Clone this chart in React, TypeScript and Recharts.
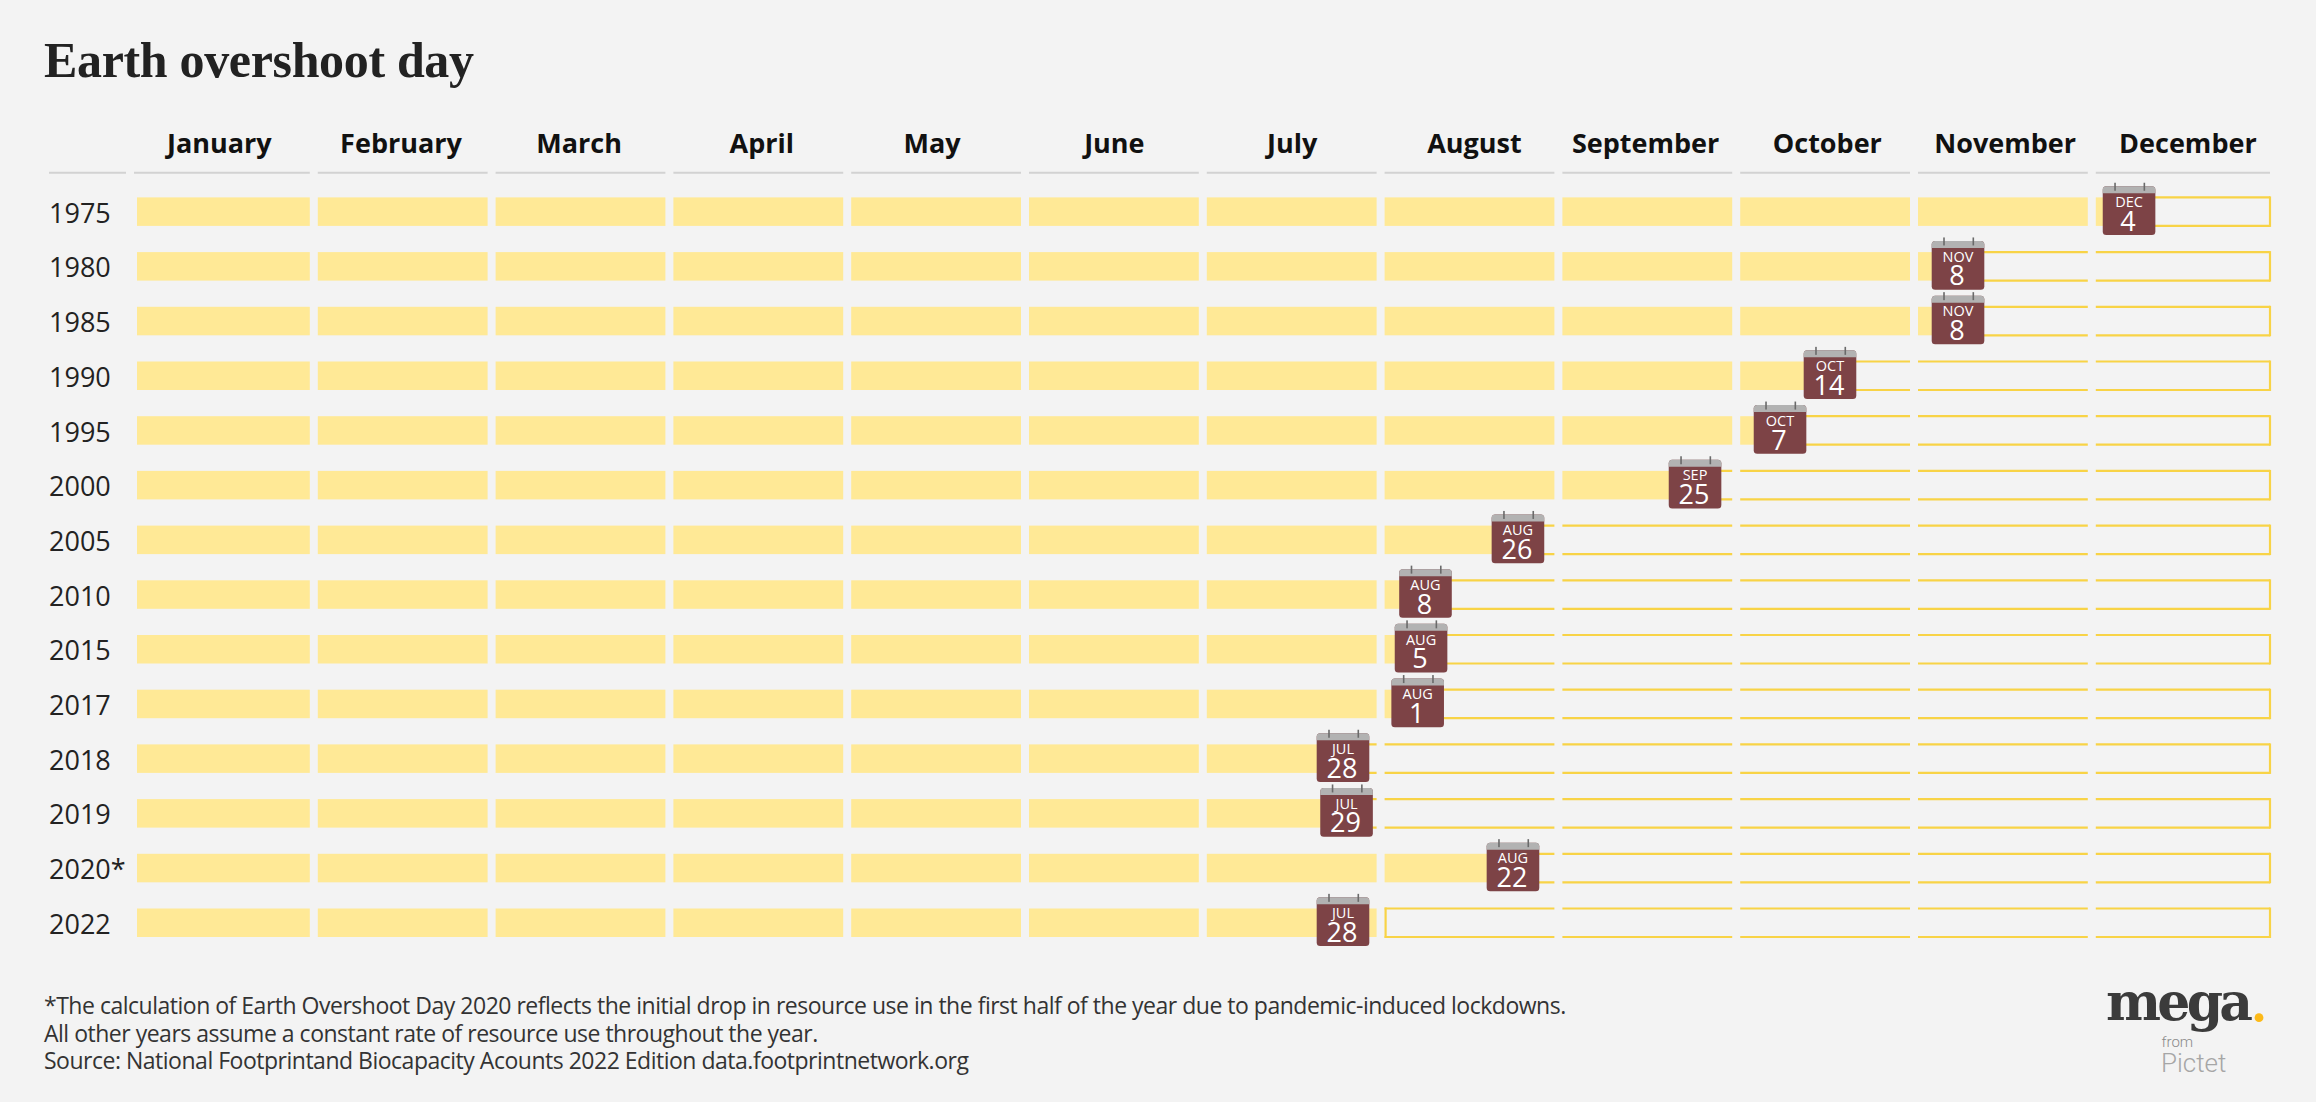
import { ComposedChart, Bar, Line, XAxis, YAxis } from 'recharts'

const YEARS = ['1975', '1980', '1985', '1990', '1995', '2000', '2005', '2010', '2015', '2017', '2018', '2019', '2020*', '2022']
const MONTHS = ['January', 'February', 'March', 'April', 'May', 'June', 'July', 'August', 'September', 'October', 'November', 'December']
// where each month heading sits, in months from the start of the year
const MONTH_TICKS = [0.446, 1.468, 2.47, 3.497, 4.455, 5.48, 6.48, 7.505, 8.468, 9.49, 10.49, 11.518]
const DAY_LABELS = ['4', '8', '8', '14', '7', '25', '26', '8', '5', '1', '28', '29', '22', '28']
const MONTH_LABELS = ['DEC', 'NOV', 'NOV', 'OCT', 'OCT', 'SEP', 'AUG', 'AUG', 'AUG', 'AUG', 'JUL', 'JUL', 'AUG', 'JUL']
// calendar position in months from the start of the year
const CALENDAR_POS = [11.187, 10.225, 10.225, 9.505, 9.224, 8.746, 7.75, 7.23, 7.205, 7.186, 6.766, 6.786, 7.722, 6.766]
// how far the yellow fill runs (2022 fills the whole of July)
const FILL_END = [11.187, 10.225, 10.225, 9.505, 9.224, 8.746, 7.75, 7.23, 7.205, 7.186, 6.766, 6.786, 7.722, 7]

const FOOTNOTES = [
  '*The calculation of Earth Overshoot Day 2020 reflects the initial drop in resource use in the first half of the year due to pandemic-induced lockdowns.',
  'All other years assume a constant rate of resource use throughout the year.',
  'Source: National Footprintand Biocapacity Acounts 2022 Edition data.footprintnetwork.org',
]

const WIDTH = 2316
const HEIGHT = 1102
const PLOT_LEFT = 140
const MONTH_W = 177.8
const PLOT_TOP = 184.4
const ROW_H = 54.7
const BAR_H = 28.5
const GAP = 8
const LAST_GAP = 3.6

const BG = '#f3f3f3'
const FILL = '#ffe996'
const OUTLINE = '#f8d346'
const RULE = '#d2d2d2'
const SANS = '"Open Sans", sans-serif'

const rows = YEARS.map((year, i) => {
  const row: Record<string, string | number> = { year, cal: CALENDAR_POS[i] }
  MONTHS.forEach((_, m) => {
    const f = Math.min(1, Math.max(0, FILL_END[i] - m))
    row[`f${m}`] = f
    row[`e${m}`] = 1 - f
  })
  return row
})

const gapFor = (m: number) => (m === 11 ? LAST_GAP : GAP)

function FillShape(props: any, m: number) {
  const { x, y, width, height, payload } = props
  if (!(width > 0)) return <g />
  const left = m === 0 ? x - 3 : x
  const right = payload[`f${m}`] === 1 ? x + width - gapFor(m) : x + width
  return <rect x={left} y={y} width={right - left} height={height} fill={FILL} />
}

function EmptyShape(props: any, m: number) {
  const { x, y, width, height, payload } = props
  if (!(width > 0)) return <g />
  const right = x + width - gapFor(m)
  const startsAfterFullMonth = payload[`f${m}`] === 0 && m > 0 && payload[`f${m - 1}`] === 1
  return (
    <g stroke={OUTLINE} strokeWidth={2.2} fill="none">
      <line x1={x} x2={right} y1={y} y2={y} />
      <line x1={x} x2={right} y1={y + height} y2={y + height} />
      {m === 11 && <line x1={right} x2={right} y1={y - 1} y2={y + height + 1} />}
      {startsAfterFullMonth && <line x1={x + 1} x2={x + 1} y1={y - 1} y2={y + height + 1} />}
    </g>
  )
}

function CalendarDot(props: any) {
  const { cx, cy, index } = props
  const left = cx - 26.3
  const top = cy - 25.5
  return (
    <g key={index}>
      <rect x={left} y={top} width={52.6} height={48.7} rx={3.5} fill="#7d4346" />
      <path
        d={`M${left} ${top + 7}v-3.5a3.5 3.5 0 0 1 3.5 -3.5h45.6a3.5 3.5 0 0 1 3.5 3.5v3.5z`}
        fill="#b2b2b2"
      />
      <rect x={left + 11.5} y={top - 3.5} width={1.6} height={8} fill="#6a6a6a" />
      <rect x={left + 40.8} y={top - 3.5} width={1.6} height={8} fill="#6a6a6a" />
      <text x={cx} y={cy - 4.8} textAnchor="middle" fontFamily={SANS} fontSize={14.5} fill="#ffffff">
        {MONTH_LABELS[index]}
      </text>
      <text x={cx - 1} y={cy + 19} textAnchor="middle" fontFamily={SANS} fontWeight={500} fontSize={27} fill="#ffffff">
        {DAY_LABELS[index]}
      </text>
    </g>
  )
}

function MonthTick(props: any) {
  const { x, index } = props
  const x1 = PLOT_LEFT + index * MONTH_W - (index === 0 ? 6 : 0)
  const x2 = PLOT_LEFT + (index + 1) * MONTH_W - gapFor(index)
  return (
    <g>
      <text x={x} y={153} textAnchor="middle" fontFamily={SANS} fontWeight={700} fontSize={27} fill="#111">
        {MONTHS[index]}
      </text>
      <line x1={x1} x2={x2} y1={172.7} y2={172.7} stroke={RULE} strokeWidth={2} />
    </g>
  )
}

function YearTick(props: any) {
  const { y, payload } = props
  return (
    <text x={49} y={y + 11} fontFamily={SANS} fontSize={27} fill="#222">
      {payload.value}
    </text>
  )
}

export default function App() {
  return (
    <div style={{ position: 'absolute', left: 0, top: 0, width: WIDTH, height: HEIGHT, background: BG, overflow: 'hidden' }}>
      <ComposedChart
        layout="vertical"
        width={WIDTH}
        height={HEIGHT}
        data={rows}
        barCategoryGap={0}
        margin={{
          top: PLOT_TOP - 10,
          left: PLOT_LEFT - 10,
          right: WIDTH - PLOT_LEFT - 12 * MONTH_W,
          bottom: HEIGHT - PLOT_TOP - ROW_H * YEARS.length,
        }}
      >
        <XAxis
          type="number"
          orientation="top"
          domain={[0, 12]}
          ticks={MONTH_TICKS}
          interval={0}
          height={10}
          axisLine={false}
          tickLine={false}
          tick={MonthTick}
        />
        <YAxis type="category" dataKey="year" width={10} interval={0} axisLine={false} tickLine={false} tick={YearTick} />
        {MONTHS.flatMap((_, m) => [
          <Bar
            key={`f${m}`}
            dataKey={`f${m}`}
            stackId="year"
            barSize={BAR_H}
            isAnimationActive={false}
            shape={(p: any) => FillShape(p, m)}
          />,
          <Bar
            key={`e${m}`}
            dataKey={`e${m}`}
            stackId="year"
            barSize={BAR_H}
            isAnimationActive={false}
            shape={(p: any) => EmptyShape(p, m)}
          />,
        ])}
        <Line dataKey="cal" stroke="none" dot={CalendarDot} activeDot={false} isAnimationActive={false} />
      </ComposedChart>

      <svg width={WIDTH} height={HEIGHT} style={{ position: 'absolute', left: 0, top: 0, pointerEvents: 'none' }}>
        <text x={44} y={76.7} fontFamily='"Liberation Serif", serif' fontWeight={700} fontSize={50} fill="#222" textLength={430}>
          Earth overshoot day
        </text>
        <line x1={49} x2={126} y1={172.7} y2={172.7} stroke={RULE} strokeWidth={2} />
        {FOOTNOTES.map((line, i) => (
          <text key={i} x={44} y={1014 + i * 27.5} fontFamily={SANS} fontSize={23} letterSpacing={-0.49} fill="#333">
            {line}
          </text>
        ))}
        <text x={2106} y={1020} fontFamily='"DejaVu Serif", serif' fontWeight={700} fontSize={52} fill="#3b3b3b" textLength={147}>
          mega
        </text>
        <circle cx={2259} cy={1017.7} r={4.4} fill="#fcb918" />
        <text x={2161.5} y={1046.7} fontFamily="Roboto, sans-serif" fontWeight={300} fontSize={15} fill="#8a8a8a">
          from
        </text>
        <text x={2161} y={1071.7} fontFamily="Roboto, sans-serif" fontWeight={300} fontSize={26} fill="#a6a6a6">
          Pictet
        </text>
      </svg>
    </div>
  )
}
